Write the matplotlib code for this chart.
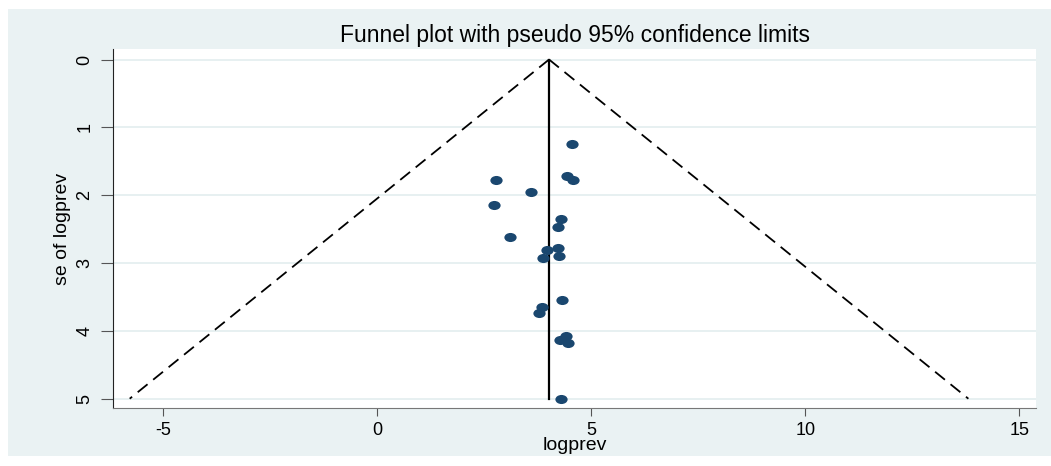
import numpy as np
import matplotlib.pyplot as plt
from matplotlib.path import Path
from matplotlib.patches import Rectangle

plt.rcParams['font.family'] = ['Liberation Sans', 'DejaVu Sans']
plt.rcParams['axes.unicode_minus'] = False

# study estimates (logprev) and their standard errors
logprev = [4.54, 2.77, 4.44, 4.57, 3.58, 2.72, 4.29, 4.21, 3.09, 3.97,
           4.21, 3.87, 4.24, 4.32, 3.84, 3.78, 4.41, 4.27, 4.46, 4.30]
se_logprev = [1.24, 1.77, 1.71, 1.78, 1.95, 2.15, 2.35, 2.47, 2.62, 2.81,
              2.78, 2.92, 2.90, 3.54, 3.65, 3.73, 4.07, 4.13, 4.18, 5.00]
pooled = 4.01
se_max = 5.0
xticks = [-5, 0, 5, 10, 15]
yticks = [0, 1, 2, 3, 4, 5]

W, H = 1051, 466
fig = plt.figure(figsize=(W / 100, H / 100), dpi=100, facecolor='white')
fig.patches.append(Rectangle((8 / W, 1 - 456 / H), (W - 8) / W, (456 - 9) / H,
                             transform=fig.transFigure, facecolor='#eaf2f3',
                             edgecolor='none', zorder=-5))

ax = fig.add_axes([113 / W, 1 - 408 / H, (1036 - 113) / W, (408 - 49) / H])
ax.set_facecolor('white')

# pseudo 95% confidence limits
se_line = np.array([0, se_max])
ax.plot(pooled - 1.96 * se_line, se_line, color='black', lw=1.3, ls=(0, (7, 4)))
ax.plot(pooled + 1.96 * se_line, se_line, color='black', lw=1.3, ls=(0, (7, 4)))
ax.plot([pooled, pooled], [0, se_max], color='black', lw=1.6)

# elliptical markers like the stretched Stata output
circ = Path.unit_circle()
ell = Path(circ.vertices * np.array([1.35, 1.0]), circ.codes)
ax.scatter(logprev, se_logprev, marker=ell, s=78, color='#1a476f', zorder=3,
           linewidths=0)

ax.set_xlim(-6.18, 15.39)
ax.set_ylim(5.137, -0.155)
ax.set_xticks(xticks)
ax.set_yticks(yticks)
ax.set_yticklabels([str(t) for t in yticks], rotation=90, va='center')
ax.tick_params(axis='y', length=9, color='#555555', labelsize=13, pad=5)
ax.tick_params(axis='x', length=6, color='#555555', labelsize=13, pad=4)
ax.grid(axis='y', color='#e3edef', lw=1.2)
ax.set_axisbelow(True)
for s in ['top', 'right']:
    ax.spines[s].set_visible(False)
ax.spines['left'].set_color('#222222')
ax.spines['bottom'].set_color('#777777')

ax.set_xlabel('logprev', fontsize=14, labelpad=-1)
ax.set_ylabel('se of logprev', fontsize=14, labelpad=4)
ax.set_title('Funnel plot with pseudo 95% confidence limits', fontsize=16.5, pad=5)

fig.savefig('out.png', dpi=100)
